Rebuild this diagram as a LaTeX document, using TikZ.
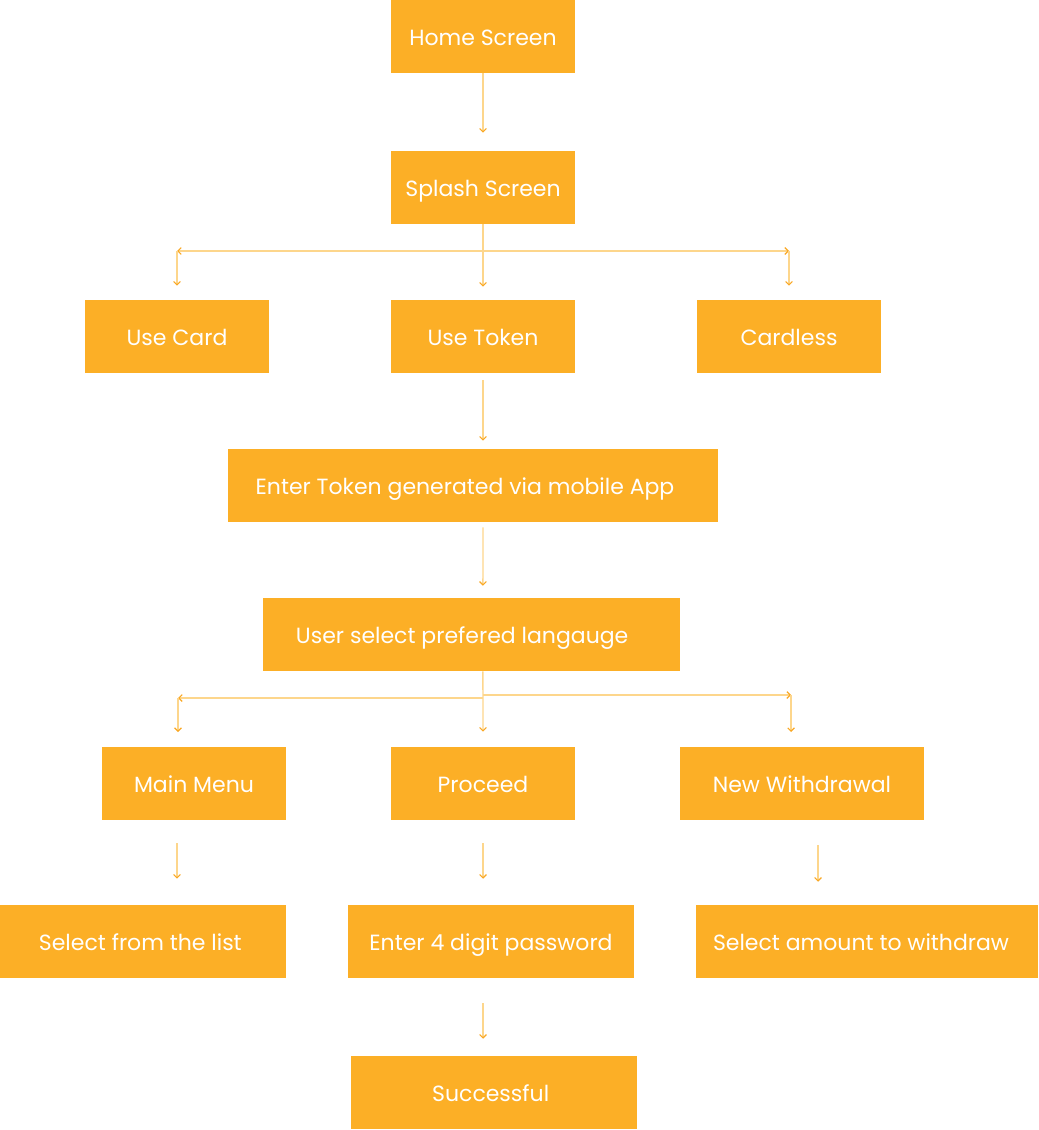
\documentclass[tikz,border=0pt]{standalone}
\usepackage{fontspec}
\setmainfont{Poppins}
\usetikzlibrary{arrows.meta}
\definecolor{boxc}{HTML}{FCAF26}
\definecolor{linec}{HTML}{FDD68C}
\definecolor{tipc}{HTML}{F9A825}
\begin{document}
\begin{tikzpicture}[x=0.75pt,y=-0.75pt,
  box/.style={fill=boxc, draw=none, text=white, minimum height=54.75pt, inner sep=0pt, text height=13pt, text depth=0pt, font=\fontsize{16.5}{19}\selectfont},
  flow/.style={draw=linec, line width=1.1pt, -{Straight Barb[length=2.5pt,width=5pt,color=tipc,line width=0.9pt]}},
  flowboth/.style={draw=linec, line width=1.1pt, {Straight Barb[length=2.5pt,width=5pt,color=tipc,line width=0.9pt]}-{Straight Barb[length=2.5pt,width=5pt,color=tipc,line width=0.9pt]}}]
\useasboundingbox (0,0) rectangle (1038,1130);
% boxes
\node[box, minimum width=138pt] (home) at (483,36.5) {Home Screen};
\node[box, minimum width=138pt] (splash) at (483,187.5) {Splash Screen};
\node[box, minimum width=138pt] (usecard) at (177,336.5) {Use Card};
\node[box, minimum width=138pt] (usetoken) at (483,336.5) {Use Token};
\node[box, minimum width=138pt] (cardless) at (789,336.5) {Cardless};
\node[box, minimum width=367.5pt] (entertoken) at (473,485.5) {Enter Token generated via mobile App\kern12pt};
\node[box, minimum width=312.75pt] (userselect) at (471.5,634.5) {User select prefered langauge\kern14pt};
\node[box, minimum width=138pt] (mainmenu) at (194,783.5) {Main Menu};
\node[box, minimum width=138pt] (proceed) at (483,783.5) {Proceed};
\node[box, minimum width=183pt] (newwd) at (802,783.5) {New Withdrawal};
\node[box, minimum width=214.5pt] (sellist) at (143,941.5) {Select from the list\kern4pt};
\node[box, minimum width=214.5pt] (password) at (491,941.5) {Enter 4 digit password};
\node[box, minimum width=256.5pt] (amount) at (867,941.5) {Select amount to withdraw\kern9pt};
\node[box, minimum width=214.5pt] (success) at (494,1092.5) {Successful\kern5pt};
% coordinates
\coordinate (l1) at (177,251);
\coordinate (r1) at (789,251);
\coordinate (j2l) at (483,698);
\coordinate (j2r) at (483,695);
\coordinate (l2) at (178,698);
\coordinate (r2) at (791,695);
\coordinate (l2e) at (178,732);
\coordinate (r2e) at (791,732);
% connectors
\draw[flow, shorten >=13.5pt] (home) -- (splash);
\draw[flow, shorten >=9.75pt] (splash) -- (usetoken);
\draw[flowboth] (l1) -- (r1);
\draw[flow, shorten >=10.5pt] (l1) -- (usecard);
\draw[flow, shorten >=10.5pt] (r1) -- (cardless);
\draw[flow, shorten <=5.25pt, shorten >=6pt] (usetoken.south) -- ([xshift=7.5pt]entertoken.north);
\draw[flow, shorten <=3.75pt, shorten >=9pt] ([xshift=7.5pt]entertoken.south) -- ([xshift=8.6pt]userselect.north);
\draw[flow, shorten >=11.25pt] ([xshift=8.6pt]userselect.south) -- (proceed.north);
\draw[flow] (j2l) -- (l2);
\draw[flow] (j2r) -- (r2);
\draw[flow] (l2) -- (l2e);
\draw[flow] (r2) -- (r2e);
\draw[flow, shorten <=17.25pt, shorten >=19.5pt] ([xshift=-12.75pt]mainmenu.south) -- ([xshift=25.5pt]sellist.north);
\draw[flow, shorten <=17.25pt, shorten >=19.5pt] (proceed.south) -- ([xshift=-6pt]password.north);
\draw[flow, shorten <=18.75pt, shorten >=17.25pt] ([xshift=12pt]newwd.south) -- ([xshift=-36.75pt]amount.north);
\draw[flow, shorten <=18.75pt, shorten >=12.75pt] ([xshift=-6pt]password.south) -- ([xshift=-8.25pt]success.north);
\end{tikzpicture}
\end{document}
